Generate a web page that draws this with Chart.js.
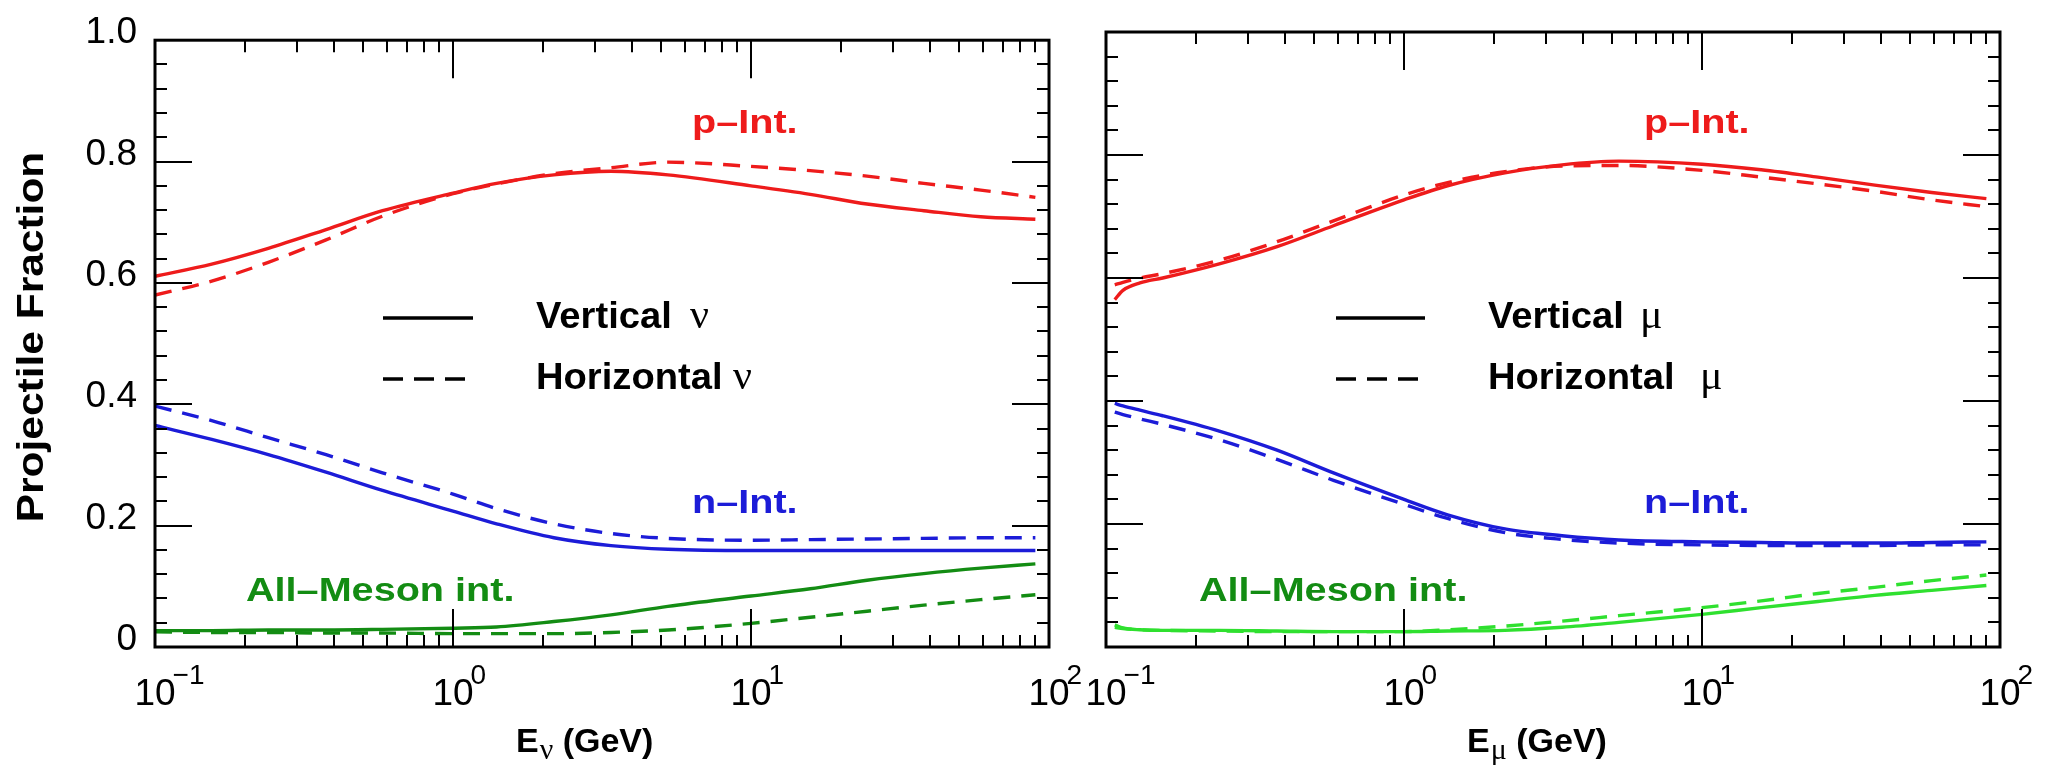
<!DOCTYPE html>
<html><head><meta charset="utf-8">
<script src="https://cdn.jsdelivr.net/npm/chart.js@4.4.1/dist/chart.umd.min.js"></script>
<style>
html,body{margin:0;padding:0;background:#fff;overflow:hidden}
#wrap{position:relative;width:2055px;height:780px;background:#fff}
#wrap canvas{position:absolute;left:0;top:0}
</style>
</head><body>
<div id="wrap"><canvas id="cL" width="2055" height="780"></canvas><canvas id="cR" width="2055" height="780"></canvas></div>
<script>
// ---------- data ----------
const energyNu = [0.1, 0.155, 0.24, 0.375, 0.58, 1.0, 1.4, 2.18, 3.39, 5.26, 10, 15.8, 24.5, 38, 59, 90];
const pVertNu  = [0.611,0.631,0.657,0.688,0.719,0.748,0.764,0.778,0.784,0.778,0.760,0.746,0.730,0.719,0.709,0.705];
const pHorzNu  = [0.580,0.603,0.634,0.671,0.710,0.747,0.763,0.780,0.790,0.799,0.792,0.785,0.776,0.764,0.753,0.741];
const nVertNu  = [0.365,0.342,0.317,0.288,0.258,0.224,0.203,0.180,0.167,0.161,0.159,0.159,0.159,0.159,0.159,0.159];
const nHorzNu  = [0.397,0.373,0.345,0.317,0.287,0.252,0.228,0.203,0.187,0.179,0.176,0.177,0.178,0.179,0.180,0.180];
const mVertNu  = [0.027,0.027,0.028,0.028,0.029,0.031,0.033,0.042,0.053,0.067,0.084,0.096,0.110,0.121,0.130,0.137];
const mHorzNu  = [0.025,0.024,0.024,0.023,0.023,0.022,0.022,0.022,0.024,0.028,0.039,0.049,0.059,0.069,0.078,0.086];

const energyMu = [0.107, 0.114, 0.13, 0.155, 0.24, 0.375, 0.58, 1.0, 1.4, 2.18, 3.39, 5.26, 10, 15.8, 24.5, 38, 59, 90];
const pVertMu  = [0.565,0.580,0.592,0.600,0.623,0.651,0.685,0.727,0.750,0.771,0.784,0.790,0.785,0.776,0.764,0.751,0.739,0.729];
const pHorzMu  = [0.589,0.593,0.600,0.607,0.629,0.659,0.693,0.735,0.755,0.773,0.782,0.783,0.775,0.764,0.753,0.741,0.727,0.716];
const nVertMu  = [0.396,0.392,0.385,0.376,0.351,0.320,0.283,0.240,0.215,0.192,0.181,0.174,0.171,0.170,0.169,0.169,0.170,0.171];
const nHorzMu  = [0.382,0.378,0.371,0.362,0.337,0.305,0.271,0.232,0.209,0.186,0.175,0.169,0.166,0.165,0.165,0.165,0.166,0.166];
const mVertMu  = [0.036,0.031,0.028,0.027,0.027,0.026,0.025,0.025,0.026,0.027,0.032,0.040,0.053,0.064,0.074,0.084,0.092,0.100];
const mHorzMu  = [0.032,0.030,0.028,0.027,0.026,0.025,0.025,0.025,0.028,0.034,0.042,0.051,0.064,0.075,0.087,0.097,0.108,0.117];

const xTickValues = [0.1, 1, 10, 100];
const xTickExponents = ['\u22121', '0', '1', '2'];
const yTickLabels = ['0', '0.2', '0.4', '0.6', '0.8', '1.0'];

// ---------- styling ----------
const FONT = '"Liberation Sans", Arial, Helvetica, sans-serif';
const SERIF = '"Liberation Serif", "DejaVu Serif", serif';
const RED = '#ee1b1b', BLUE = '#1c1cd8', DKGREEN = '#138c13', LTGREEN = '#2fe02f';
const DASH = [17, 11];

function pts(xs, ys) { return xs.map((x, i) => ({x: x, y: ys[i]})); }
function ds(xs, ys, color, dashed) {
  return {data: pts(xs, ys), borderColor: color, borderWidth: 3.4, borderDash: dashed ? DASH : [],
          pointRadius: 0, fill: false, tension: 0.4, cubicInterpolationMode: 'monotone'};
}

function drawStretched(ctx, text, x, y, size, sx, color, bold, align) {
  ctx.save();
  ctx.font = (bold ? 'bold ' : '') + size + 'px ' + FONT;
  ctx.fillStyle = color; ctx.textBaseline = 'alphabetic'; ctx.textAlign = 'left';
  const w = ctx.measureText(text).width * sx;
  const x0 = align === 'center' ? x - w / 2 : x;
  ctx.translate(x0, y); ctx.scale(sx, 1); ctx.fillText(text, 0, 0);
  ctx.restore();
  return w;
}
function drawGreek(ctx, ch, x, y, size, sx) {
  ctx.save();
  ctx.font = size + 'px ' + SERIF; ctx.fillStyle = '#000';
  ctx.textBaseline = 'alphabetic'; ctx.textAlign = 'left';
  ctx.translate(x, y); ctx.scale(sx, 1); ctx.fillText(ch, 0, 0);
  const w = ctx.measureText(ch).width * sx;
  ctx.restore();
  return w;
}

const framePlugin = {
  id: 'frameTicks',
  afterDatasetsDraw(chart) {
    const ctx = chart.ctx, a = chart.chartArea, x = chart.scales.x, y = chart.scales.y;
    ctx.save();
    ctx.strokeStyle = '#000'; ctx.lineWidth = 2; ctx.setLineDash([]);
    ctx.beginPath();
    for (let i = 1; i < 25; i++) {
      const py = Math.round(y.getPixelForValue(i * 0.04));
      const L = (i % 5 === 0) ? 37 : 12;
      ctx.moveTo(a.left, py); ctx.lineTo(a.left + L, py);
      ctx.moveTo(a.right, py); ctx.lineTo(a.right - L, py);
    }
    for (let d = -1; d < 2; d++) {
      for (let m = 1; m < 10; m++) {
        const v = m * Math.pow(10, d);
        if (v <= 0.1) continue;
        const px = Math.round(x.getPixelForValue(v));
        const L = (m === 1) ? 38 : 12;
        ctx.moveTo(px, a.top); ctx.lineTo(px, a.top + L);
        ctx.moveTo(px, a.bottom); ctx.lineTo(px, a.bottom - L);
      }
    }
    ctx.stroke();
    ctx.lineWidth = 3;
    ctx.strokeRect(a.left, a.top, a.right - a.left, a.bottom - a.top);
    // x tick labels: 10 with superscript exponent
    ctx.fillStyle = '#000'; ctx.textBaseline = 'alphabetic'; ctx.textAlign = 'left';
    xTickValues.forEach((v, i) => {
      const px = x.getPixelForValue(v);
      ctx.font = '37px ' + FONT;
      const w = ctx.measureText('10').width;
      ctx.fillText('10', px - w / 2, 705);
      ctx.font = '28px ' + FONT;
      ctx.fillText(xTickExponents[i], px + w / 2 - 3, 684);
    });
    ctx.restore();
  }
};

function textPlugin(cfg) {
  return {
    id: 'texts' + cfg.side,
    afterDraw(chart) {
      const ctx = chart.ctx, a = chart.chartArea;
      // curve annotations
      drawStretched(ctx, 'p\u2013Int.', cfg.pX, 133, 33, 1.2, RED, true);
      drawStretched(ctx, 'n\u2013Int.', cfg.pX, 513, 33, 1.2, BLUE, true);
      drawStretched(ctx, 'All\u2013Meson int.', cfg.mX, 601, 33, 1.2, DKGREEN, true);
      // legend
      ctx.save();
      ctx.strokeStyle = '#000'; ctx.lineWidth = 3.4;
      ctx.beginPath(); ctx.moveTo(cfg.lx0, 318); ctx.lineTo(cfg.lx1, 318); ctx.stroke();
      ctx.setLineDash([20, 11]);
      ctx.beginPath(); ctx.moveTo(cfg.lx0, 379); ctx.lineTo(cfg.lx1, 379); ctx.stroke();
      ctx.restore();
      drawStretched(ctx, 'Vertical', cfg.tx, 328, 36, 1.06, '#000', true);
      drawStretched(ctx, 'Horizontal', cfg.tx, 389, 36, 1.06, '#000', true);
      drawGreek(ctx, cfg.greek, cfg.g1, 328, 42, 1.0);
      drawGreek(ctx, cfg.greek, cfg.g2, 389, 42, 1.0);
      // x title (starts left of the panel centre, as in the reference)
      const cx = (a.left + a.right) / 2, base = 752, size = 34;
      let xx = cx - 86;
      xx += drawStretched(ctx, 'E', xx, base, size, 1.0, '#000', true);
      xx += drawGreek(ctx, cfg.greek, xx + 1, base + 7, 30, 1.0) + 1;
      drawStretched(ctx, ' (GeV)', xx, base, size, 1.0, '#000', true);
      // y title (left panel only)
      if (cfg.side === 'L') {
        ctx.save();
        ctx.font = 'bold 36px ' + FONT; ctx.fillStyle = '#000';
        ctx.textAlign = 'center'; ctx.textBaseline = 'alphabetic';
        ctx.translate(43, 337); ctx.rotate(-Math.PI / 2); ctx.scale(1.18, 1);
        ctx.fillText('Projectile Fraction', 0, 0);
        ctx.restore();
      }
    }
  };
}

function options(side) {
  const left = side === 'L';
  return {
    responsive: false, animation: false, devicePixelRatio: 1,
    layout: {padding: {left: 0, top: 32, bottom: 0, right: left ? 1006 : 55}},
    plugins: {legend: {display: false}, tooltip: {enabled: false}, title: {display: false}},
    scales: {
      x: {type: 'logarithmic', min: 0.1, max: 100,
          grid: {display: false, drawTicks: false}, border: {display: false},
          ticks: {display: false},
          afterFit(s) { s.height = 133; }},
      y: {type: 'linear', min: 0, max: 1,
          grid: {display: false, drawTicks: false}, border: {display: false},
          ticks: left ? {display: true, stepSize: 0.2, padding: 18, labelOffset: -7, color: '#000',
                         font: {family: FONT, size: 37},
                         callback: (v, i) => yTickLabels[i]} : {display: false, stepSize: 0.2},
          afterFit(s) { s.width = left ? 155 : 1106; }}
    }
  };
}

new Chart(document.getElementById('cL'), {
  type: 'line',
  data: {datasets: [
    ds(energyNu, pHorzNu, RED, true), ds(energyNu, pVertNu, RED, false),
    ds(energyNu, nHorzNu, BLUE, true), ds(energyNu, nVertNu, BLUE, false),
    ds(energyNu, mHorzNu, DKGREEN, true), ds(energyNu, mVertNu, DKGREEN, false)
  ]},
  options: options('L'),
  plugins: [framePlugin, textPlugin({side: 'L', greek: '\u03BD', pX: 692, mX: 246,
            lx0: 383, lx1: 473, tx: 536, g1: 690, g2: 733})]
});

new Chart(document.getElementById('cR'), {
  type: 'line',
  data: {datasets: [
    ds(energyMu, pHorzMu, RED, true), ds(energyMu, pVertMu, RED, false),
    ds(energyMu, nHorzMu, BLUE, true), ds(energyMu, nVertMu, BLUE, false),
    ds(energyMu, mHorzMu, LTGREEN, true), ds(energyMu, mVertMu, LTGREEN, false)
  ]},
  options: options('R'),
  plugins: [framePlugin, textPlugin({side: 'R', greek: '\u03BC', pX: 1644, mX: 1199,
            lx0: 1336, lx1: 1425, tx: 1488, g1: 1640, g2: 1700})]
});
</script>
</body></html>
